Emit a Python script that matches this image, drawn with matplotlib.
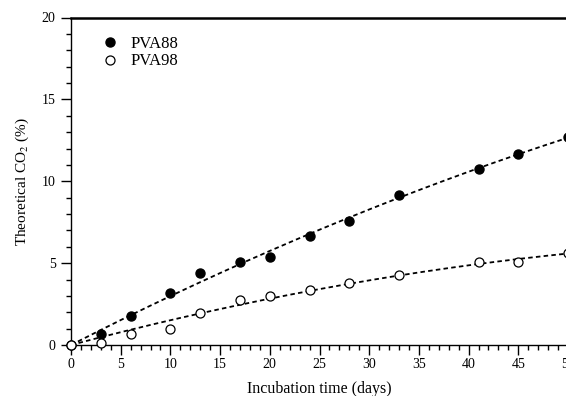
import matplotlib.pyplot as plt
import numpy as np

# incubation days and theoretical CO2 (%)
days = [0, 3, 6, 10, 13, 17, 20, 24, 28, 33, 41, 45, 50]
pva88 = [0, 0.67, 1.77, 3.15, 4.37, 5.06, 5.35, 6.66, 7.58, 9.19, 10.77, 11.67, 12.68]
pva98 = [0, 0.10, 0.67, 0.98, 1.97, 2.76, 2.97, 3.35, 3.78, 4.25, 5.06, 5.08, 5.59]

plt.rcParams['font.family'] = ['Liberation Serif', 'DejaVu Serif']
plt.rcParams['mathtext.fontset'] = 'stix'

fig = plt.figure(figsize=(5.66, 3.96), dpi=100)
ax = fig.add_axes([71 / 566, 51 / 396, 497 / 566, 327.5 / 396])

x = np.array(days, dtype=float)
xs = np.linspace(0, 50, 200)


def fit_curve(y):
    # least squares y = a*x + b*x^2 (through origin)
    A = np.column_stack([x, x ** 2])
    coef = np.linalg.lstsq(A, np.array(y), rcond=None)[0]
    return coef[0] * xs + coef[1] * xs ** 2


ax.plot(xs, fit_curve(pva88), color='black', linestyle=(0, (2.5, 1.8)), lw=1.3, zorder=2)
ax.plot(xs, fit_curve(pva98), color='black', linestyle=(0, (2.5, 1.8)), lw=1.3, zorder=2)
ax.plot(days, pva88, 'o', color='black', ms=6.5, label='PVA88', zorder=3, clip_on=False)
ax.plot(days, pva98, 'o', mfc='white', mec='black', mew=0.9, ms=6.5, label='PVA98',
        zorder=3, clip_on=False)

ax.set_xlim(0, 50)
ax.set_ylim(0, 20)
ax.set_xticks(np.arange(0, 51, 5))
ax.set_xticks(np.arange(0, 51, 1), minor=True)
ax.set_yticks(np.arange(0, 21, 5))
ax.set_yticks(np.arange(0, 21, 1), minor=True)
ax.tick_params(which='major', direction='out', length=7.5, width=1, labelsize=10)
ax.tick_params(which='minor', direction='out', length=3.6, width=1)
ax.tick_params(axis='x', which='major', pad=1.5)
ax.tick_params(axis='y', which='major', pad=3.5)

ax.spines['right'].set_visible(False)
ax.spines['top'].set_linewidth(1.8)
ax.spines['left'].set_linewidth(1.0)
ax.spines['bottom'].set_linewidth(1.0)

ax.set_xlabel('Incubation time (days)', fontsize=11.5, labelpad=7.5)
ax.set_ylabel('Theoretical CO$_2$ (%)', fontsize=11, labelpad=8)

ax.legend(loc='upper left', bbox_to_anchor=(0.035, 0.985), frameon=False, fontsize=12,
          handlelength=1.0, handletextpad=0.7, labelspacing=0.1, borderpad=0.3)

fig.savefig('out.png', dpi=100)
